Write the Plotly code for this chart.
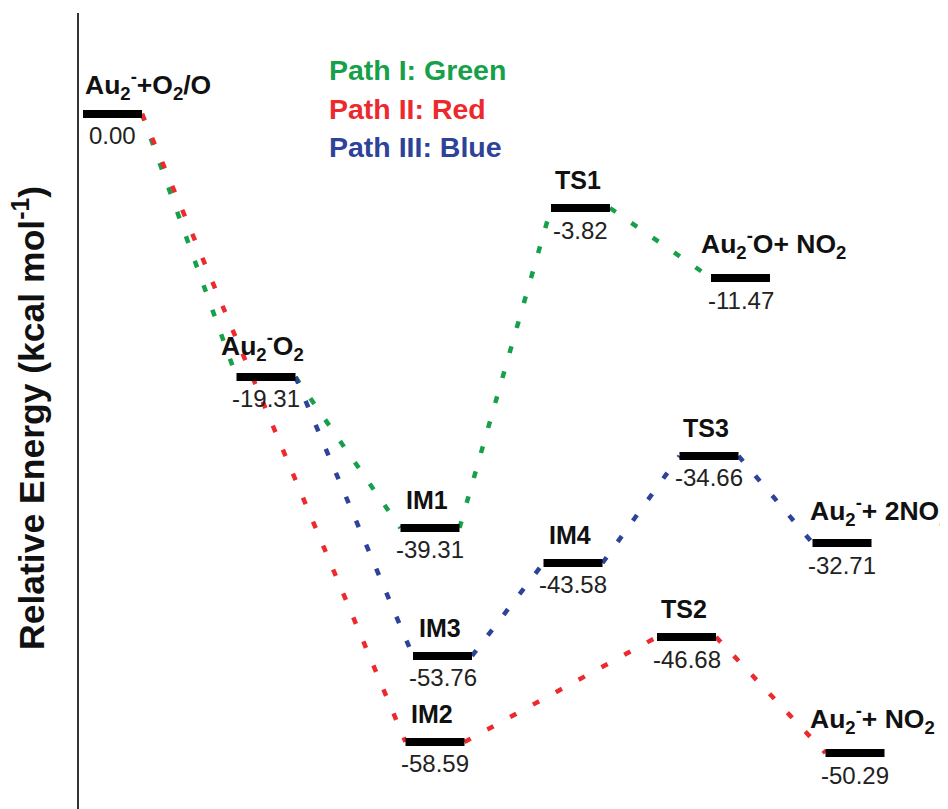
import plotly.graph_objects as go

# ---------------- data ----------------
level_names = ["R", "Au2O2", "IM1", "IM2", "IM3", "IM4",
               "TS1", "TS2", "TS3", "P1", "P2", "P3"]
level_labels = [
    "Au<sub>2</sub><sup>-</sup>+O<sub>2</sub>/O",
    "Au<sub>2</sub><sup>-</sup>O<sub>2</sub>",
    "IM1", "IM2", "IM3", "IM4",
    "TS1", "TS2", "TS3",
    "Au<sub>2</sub><sup>-</sup>O+ NO<sub>2</sub>",
    "Au<sub>2</sub><sup>-</sup>+ NO<sub>2</sub>",
    "Au<sub>2</sub><sup>-</sup>+ 2NO<sub>2</sub>",
]
energies = ["0.00", "-19.31", "-39.31", "-58.59", "-53.76", "-43.58",
            "-3.82", "-46.68", "-34.66", "-11.47", "-50.29", "-32.71"]
# horizontal centre of each level on the schematic (diagram units)
x_center = [112.5, 266, 430, 435, 442.5, 573, 580.5, 686.5, 709, 740.5, 855, 842]
# vertical position of each level as drawn (schematic, kcal/mol-like units)
y_drawn = [0.0, -24.53, -38.62, -58.58, -50.56, -41.88,
           -8.77, -48.79, -31.90, -15.30, -59.61, -40.02]

paths = {
    "green": ["R", "Au2O2", "IM1", "TS1", "P1"],
    "red": ["R", "IM2", "TS2", "P2"],
    "blue": ["Au2O2", "IM3", "IM4", "TS3", "P3"],
}
legend_texts = ["Path I: Green", "Path II: Red", "Path III: Blue"]

# ---------------- style ----------------
BAR_W = 59
colors = {"green": "#17a04a", "red": "#ec2a2e", "blue": "#2c4399"}
legend_colors = [colors["green"], colors["red"], colors["blue"]]
FONT = "Liberation Sans, Arial, Helvetica, sans-serif"
# label alignment: (anchor, x offset, y shift, font size)
label_style = {
    "R": ("left", 0, 29, 26.5), "Au2O2": ("center", -4, 31, 26.5),
    "P1": ("left", -12, 34, 26.5), "P2": ("left", -18, 34, 26.5),
    "P3": ("left", -5, 32, 26.5),
}

idx = {n: i for i, n in enumerate(level_names)}
fig = go.Figure()

# dotted connections
for cname, seq in paths.items():
    for a, b in zip(seq[:-1], seq[1:]):
        ia, ib = idx[a], idx[b]
        fig.add_trace(go.Scatter(
            x=[x_center[ia] + BAR_W / 2, x_center[ib] - BAR_W / 2],
            y=[y_drawn[ia], y_drawn[ib]],
            mode="lines",
            line=dict(color=colors[cname], width=4.5, dash="7px,19px"),
            hoverinfo="skip", showlegend=False))

# energy levels
for i, n in enumerate(level_names):
    fig.add_trace(go.Scatter(
        x=[x_center[i] - BAR_W / 2, x_center[i] + BAR_W / 2],
        y=[y_drawn[i], y_drawn[i]],
        mode="lines", line=dict(color="#000000", width=8),
        hoverinfo="skip", showlegend=False))

annotations = []
for i, n in enumerate(level_names):
    align, dx, dy, fs = label_style.get(n, ("center", -3, 28, 25))
    if align == "left":
        ax = x_center[i] - BAR_W / 2 + dx
    else:
        ax = x_center[i] + dx
    annotations.append(dict(
        x=ax, y=y_drawn[i], xref="x", yref="y", text="<b>%s</b>" % level_labels[i],
        showarrow=False, xanchor=align, yanchor="middle", yshift=dy,
        font=dict(family=FONT, size=fs, color="#111111")))
    annotations.append(dict(
        x=x_center[i], y=y_drawn[i], xref="x", yref="y", text=energies[i],
        showarrow=False, xanchor="center", yanchor="middle", yshift=-22,
        font=dict(family=FONT, size=24, color="#222222")))

# legend text
for k, (t, c) in enumerate(zip(legend_texts, legend_colors)):
    annotations.append(dict(
        x=0.2830, y=0.9291 - k * 0.0479, xref="paper", yref="paper",
        text="<b>%s</b>" % t, showarrow=False, xanchor="left", yanchor="middle",
        font=dict(family=FONT, size=28.5, color=c)))

# y-axis title
annotations.append(dict(
    x=-0.0559, y=0.4963, xref="paper", yref="paper",
    text="<b>Relative Energy (kcal mol<sup>-1</sup>)</b>", textangle=-90,
    showarrow=False, xanchor="center", yanchor="middle",
    font=dict(family=FONT, size=35.5, color="#111111")))

fig.update_layout(
    width=948, height=809,
    margin=dict(l=71, r=0, t=5, b=0),
    paper_bgcolor="white", plot_bgcolor="white",
    xaxis=dict(range=[79, 956], visible=False, fixedrange=True),
    yaxis=dict(range=[-65.58, 9.42], showline=True, linecolor="#333333",
               linewidth=1.5, showgrid=False, zeroline=False,
               showticklabels=False, ticks="", fixedrange=True),
    annotations=annotations,
    showlegend=False,
)

fig.write_html("out.html")
